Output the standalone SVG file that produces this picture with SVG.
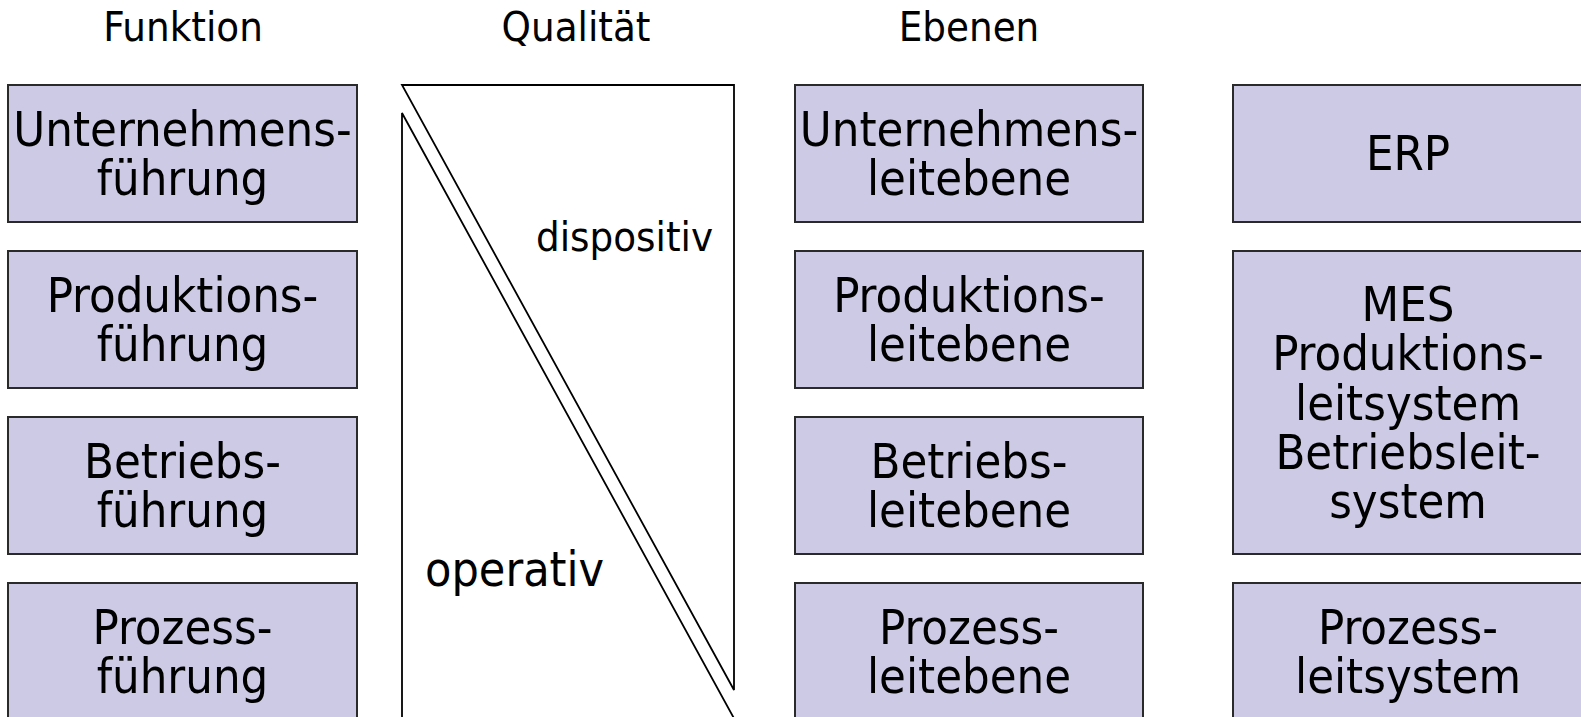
<svg xmlns="http://www.w3.org/2000/svg" width="1581" height="717" viewBox="0 0 1581 717">
  <style>
    .box { fill: #cdcae6; stroke: #2a2a2a; stroke-width: 2; }
    .t { font-family: "DejaVu Sans Condensed", "DejaVu Sans", sans-serif; font-stretch: condensed; font-size: 48.5px; fill: #000; text-anchor: middle; }
    .h { font-family: "DejaVu Sans Condensed", "DejaVu Sans", sans-serif; font-stretch: condensed; font-size: 41.5px; fill: #000; text-anchor: middle; }
    .wedge { fill: #fff; stroke: #000; stroke-width: 1.8; stroke-linejoin: miter; }
    .lbl { font-family: "DejaVu Sans Condensed", "DejaVu Sans", sans-serif; font-stretch: condensed; fill: #000; }
  </style>

  <!-- column headings -->
  <g id="headings">
    <text class="h" x="183" y="41">Funktion</text>
    <text class="h" x="576" y="41">Qualität</text>
    <text class="h" x="969" y="41">Ebenen</text>
  </g>

  <!-- Funktion column -->
  <g id="f1">
    <rect class="box" x="8" y="85" width="349" height="137"/>
    <text class="t" x="182.5" y="146">Unternehmens-</text>
    <text class="t" x="182.5" y="195">führung</text>
  </g>
  <g id="f2">
    <rect class="box" x="8" y="251" width="349" height="137"/>
    <text class="t" x="182.5" y="312">Produktions-</text>
    <text class="t" x="182.5" y="361">führung</text>
  </g>
  <g id="f3">
    <rect class="box" x="8" y="417" width="349" height="137"/>
    <text class="t" x="182.5" y="478">Betriebs-</text>
    <text class="t" x="182.5" y="527">führung</text>
  </g>
  <g id="f4">
    <rect class="box" x="8" y="583" width="349" height="137"/>
    <text class="t" x="182.5" y="644">Prozess-</text>
    <text class="t" x="182.5" y="693">führung</text>
  </g>

  <!-- Qualität: dispositiv / operativ wedges -->
  <g id="quality">
    <polygon class="wedge" points="402,85 734,85 734,690"/>
    <polygon class="wedge" points="402,113 736,722 402,722"/>
    <text class="lbl" x="536" y="251" font-size="41.5">dispositiv</text>
    <text class="lbl" x="425" y="586" font-size="48">operativ</text>
  </g>

  <!-- Ebenen column -->
  <g id="e1">
    <rect class="box" x="795" y="85" width="348" height="137"/>
    <text class="t" x="969" y="146">Unternehmens-</text>
    <text class="t" x="969" y="195">leitebene</text>
  </g>
  <g id="e2">
    <rect class="box" x="795" y="251" width="348" height="137"/>
    <text class="t" x="969" y="312">Produktions-</text>
    <text class="t" x="969" y="361">leitebene</text>
  </g>
  <g id="e3">
    <rect class="box" x="795" y="417" width="348" height="137"/>
    <text class="t" x="969" y="478">Betriebs-</text>
    <text class="t" x="969" y="527">leitebene</text>
  </g>
  <g id="e4">
    <rect class="box" x="795" y="583" width="348" height="137"/>
    <text class="t" x="969" y="644">Prozess-</text>
    <text class="t" x="969" y="693">leitebene</text>
  </g>

  <!-- Systems column -->
  <g id="s1">
    <rect class="box" x="1233" y="85" width="350" height="137"/>
    <text class="t" x="1408" y="170">ERP</text>
  </g>
  <g id="s2">
    <rect class="box" x="1233" y="251" width="350" height="303"/>
    <text class="t" x="1408" y="321">MES</text>
    <text class="t" x="1408" y="370">Produktions-</text>
    <text class="t" x="1408" y="420">leitsystem</text>
    <text class="t" x="1408" y="469">Betriebsleit-</text>
    <text class="t" x="1408" y="518">system</text>
  </g>
  <g id="s3">
    <rect class="box" x="1233" y="583" width="350" height="137"/>
    <text class="t" x="1408" y="644">Prozess-</text>
    <text class="t" x="1408" y="693">leitsystem</text>
  </g>

  <!-- no connectors in this figure -->
  <g id="connectors"/>
</svg>
